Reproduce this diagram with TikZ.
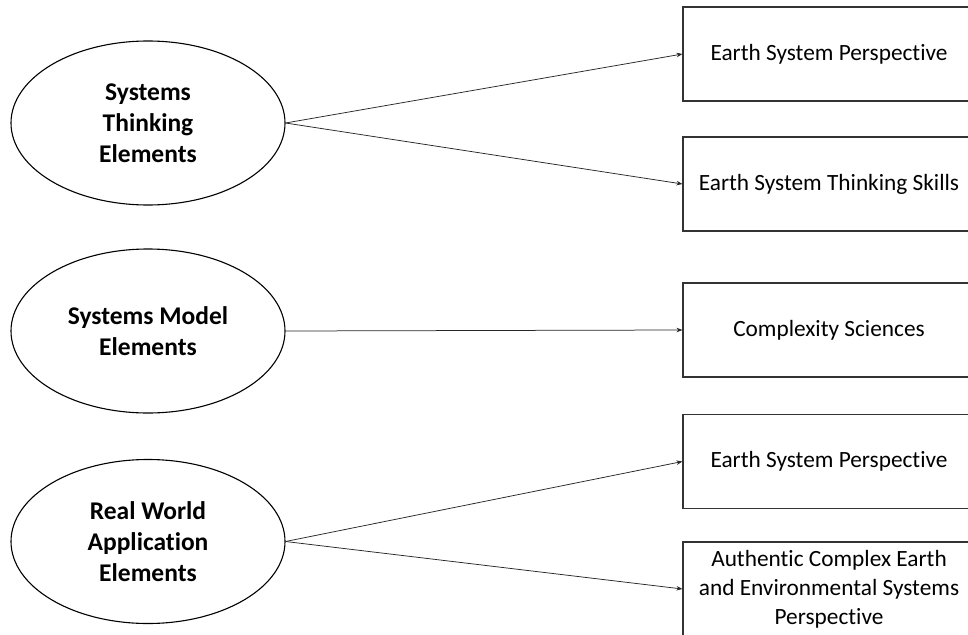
\documentclass[tikz,border=0pt]{standalone}
\usepackage{fontspec}
\setmainfont{Carlito}[Ligatures=NoCommon]
\usetikzlibrary{shapes.geometric,arrows.meta}
\tikzset{
  elem/.style={ellipse,draw=black,line width=1.1pt,minimum width=274pt,minimum height=164pt,inner sep=0pt,align=center,font=\fontsize{25.5pt}{31pt}\selectfont\bfseries},
  outbox/.style={rectangle,draw=black!80,line width=1.1pt,minimum width=292pt,minimum height=94pt,inner sep=0pt,align=center,font=\fontsize{23.3pt}{29pt}\selectfont},
  link/.style={draw=black!85,line width=0.75pt,-{Stealth[length=6pt,width=4.5pt]}}
}
\begin{document}
\begin{tikzpicture}[x=1pt,y=-1pt]
\useasboundingbox (0,0) rectangle (968,634);
\clip (0,0) rectangle (968,634);
\node[elem] (e1) at (148,123) {Systems\\Thinking\\Elements};
\node[elem] (e2) at (148,331) {Systems Model\\Elements};
\node[elem] (e3) at (148,541.5) {Real World\\Application\\Elements};
\node[outbox] (b1) at (829,54) {Earth System Perspective};
\node[outbox] (b2) at (829,184) {Earth System Thinking Skills};
\node[outbox] (b3) at (829,330) {Complexity Sciences};
\node[outbox] (b4) at (829,461.5) {Earth System Perspective};
\node[outbox] (b5) at (829,589) {Authentic Complex Earth\\and Environmental Systems\\Perspective};
\draw[link] (e1.east) -- (b1.west);
\draw[link] (e1.east) -- (b2.west);
\draw[link] (e2.east) -- (b3.west);
\draw[link] (e3.east) -- (b4.west);
\draw[link] (e3.east) -- (b5.west);
\end{tikzpicture}
\end{document}
